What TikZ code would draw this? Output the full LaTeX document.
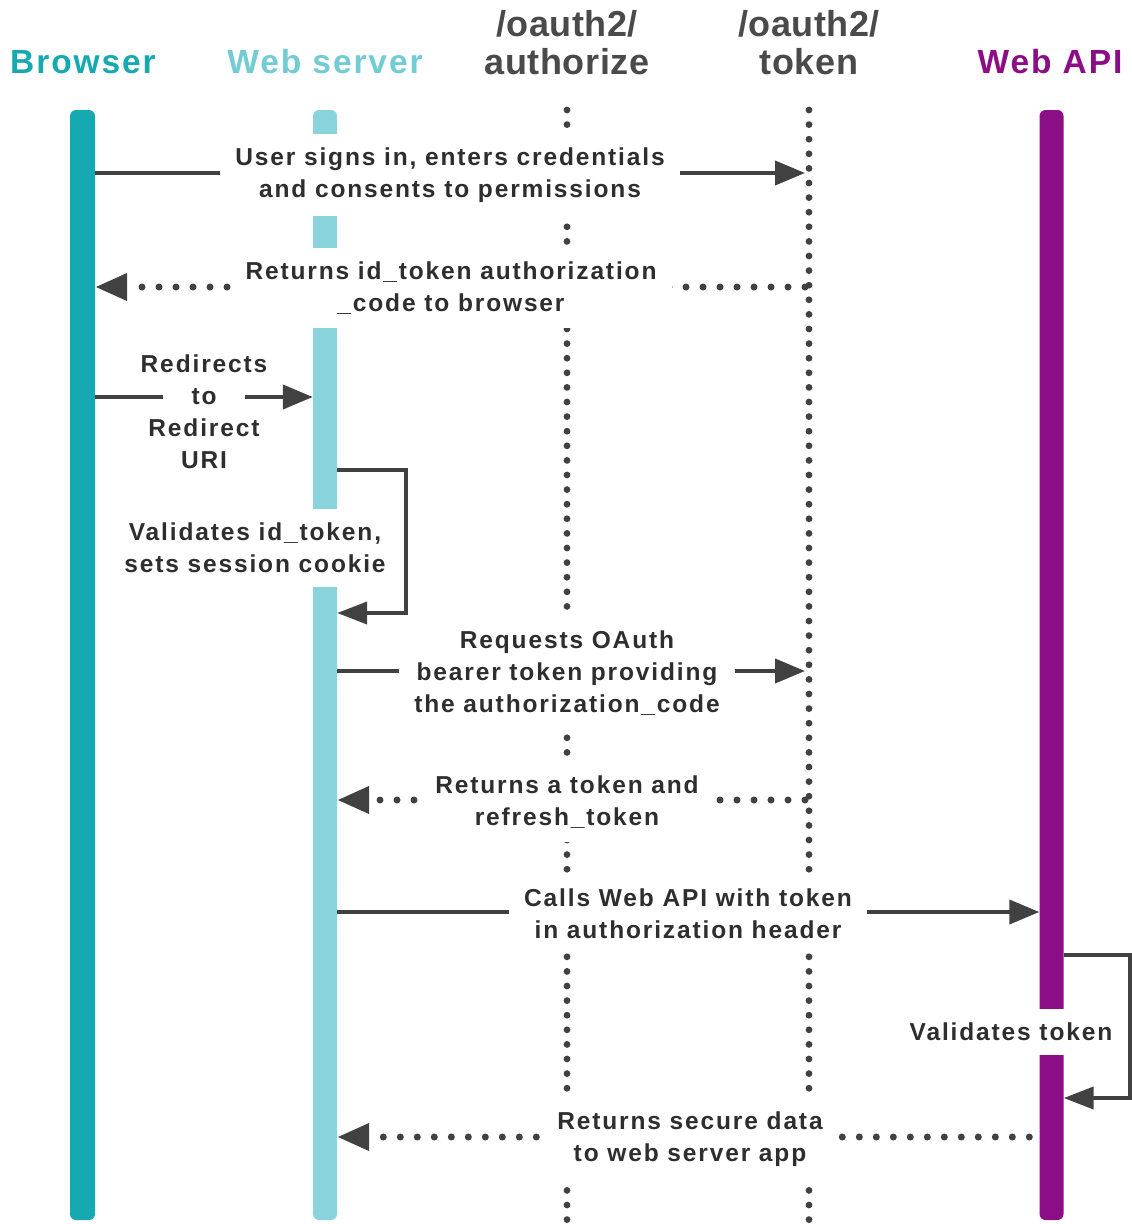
\documentclass[tikz,border=0pt]{standalone}
\usepackage{fontspec}
\setmainfont{Liberation Sans}
\newfontfamily\lblfam[LetterSpace=7.6]{Liberation Sans}
\newfontfamily\hdrfam[LetterSpace=5.7]{Liberation Sans}
\newfontfamily\oafam[LetterSpace=1.5]{Liberation Sans}
\newcommand\lblfont{\lblfam\bfseries\fontsize{24.5}{32}\selectfont}
\newcommand\hdrfont{\hdrfam\bfseries\fontsize{33.5}{38}\selectfont}
\newcommand\oafont{\oafam\bfseries\fontsize{36}{38}\selectfont}
\usetikzlibrary{arrows.meta}
\definecolor{cBrowser}{HTML}{17A9B1}
\definecolor{cWeb}{HTML}{88D4DA}
\definecolor{cWebHdr}{HTML}{72CCD4}
\definecolor{cApi}{HTML}{8C0E86}
\definecolor{cLine}{HTML}{414141}
\definecolor{cText}{HTML}{2E2E2E}
\definecolor{cOa}{HTML}{4A4A4A}
\tikzset{
  bar/.style={draw=none, rounded corners=6pt, minimum width=24pt, minimum height=1110pt, inner sep=0pt},
  solidmsg/.style={draw=cLine, line width=4pt, -{Triangle[length=30pt,width=24pt]}},
  dotmsg/.style={draw=cLine, line width=7pt, line cap=round, dash pattern=on 0pt off 17pt, -{Triangle[length=32pt,width=26pt]}},
  lifedots/.style={draw=cLine, line width=6.8pt, line cap=round, dash pattern=on 0pt off 14.6pt},
  lbl/.style={fill=white, align=center, inner xsep=15pt, inner ysep=14pt, text=cText, font=\lblfont},
  hdr/.style={anchor=base, inner sep=0pt, font=\hdrfont},
  oahdr/.style={align=center, inner sep=0pt, text=cOa, font=\oafont},
}
\begin{document}
\begin{tikzpicture}[x=1pt, y=-1pt]
\useasboundingbox (0,0) rectangle (1132,1224);
% headers
\node[hdr, text=cBrowser] (hBrowser) at (83,73) {Browser};
\node[hdr, text=cWebHdr] (hWeb) at (325,73) {Web server};
\node[oahdr] (hAuth) at (567,42.5) {/oauth2/\\authorize};
\node[oahdr] (hTok) at (809,42.5) {/oauth2/\\token};
\node[hdr, text=cApi] (hApi) at (1050,73) {Web API};
% lifelines
\node[bar, fill=cBrowser, minimum width=25pt] (browser) at (82.5,665) {};
\node[bar, fill=cWeb] (web) at (325,665) {};
\node[bar, fill=cApi] (api) at (1051.5,665) {};
\coordinate (authT) at (567,110);
\coordinate (authB) at (567,1220);
\coordinate (tokT) at (809,110);
\coordinate (tokB) at (809,1220);
\draw[lifedots] (authT) -- (authB);
\draw[lifedots] (tokT) -- (tokB);
% message rows
\coordinate (m1) at (0,173);
\coordinate (m2) at (0,287);
\coordinate (m3) at (0,397);
\coordinate (m5) at (0,671);
\coordinate (m6) at (0,800);
\coordinate (m7) at (0,912);
\coordinate (m9) at (0,1137);
\draw[solidmsg, shorten >=4pt] (browser.east |- m1) -- (tokT |- m1);
\draw[dotmsg, shorten <=4pt] (tokT |- m2) -- (browser.east |- m2);
\draw[solidmsg] (browser.east |- m3) -- (web.west |- m3);
\draw[solidmsg, shorten >=4pt] (web.east |- m5) -- (tokT |- m5);
\draw[dotmsg, shorten <=4pt] (tokT |- m6) -- (web.east |- m6);
\draw[solidmsg] (web.east |- m7) -- (api.west |- m7);
\draw[dotmsg, shorten <=10pt] (api.west |- m9) -- (web.east |- m9);
% labels
\node[lbl] (t1) at (450,175) {User signs in, enters credentials\\and consents to permissions};
\node[lbl] (t2) at (451,288) {Returns id\_token authorization\\\_code to browser};
\node[fill=white, minimum width=82pt, minimum height=14pt, inner sep=0pt] (mask3) at (204,397) {};
\node[lbl, fill=none] (t3) at (204,412) {Redirects\\to\\Redirect\\URI};
\node[lbl] (t4) at (255,548) {Validates id\_token,\\sets session cookie};
\node[lbl] (t5) at (567,673) {Requests OAuth\\bearer token providing\\the authorization\_code};
\node[lbl] (t6) at (567,802) {Returns a token and\\refresh\_token};
\node[lbl] (t7) at (688,914) {Calls Web API with token\\in authorization header};
\node[lbl] (t8) at (1011,1032) {Validates token};
\node[lbl] (t9) at (690,1139) {Returns secure data\\to web server app};
% self loops
\coordinate (l4a) at (web.east |- 0,470);
\coordinate (l4b) at (web.east |- 0,613);
\draw[solidmsg, -{Triangle[length=30pt,width=22pt]}] (l4a) -- ([xshift=69pt]l4a) |- (l4b);
\coordinate (l8a) at (api.east |- 0,955);
\coordinate (l8b) at (api.east |- 0,1098);
\draw[solidmsg, -{Triangle[length=30pt,width=22pt]}] (l8a) -- ([xshift=66pt]l8a) |- (l8b);
\end{tikzpicture}
\end{document}
